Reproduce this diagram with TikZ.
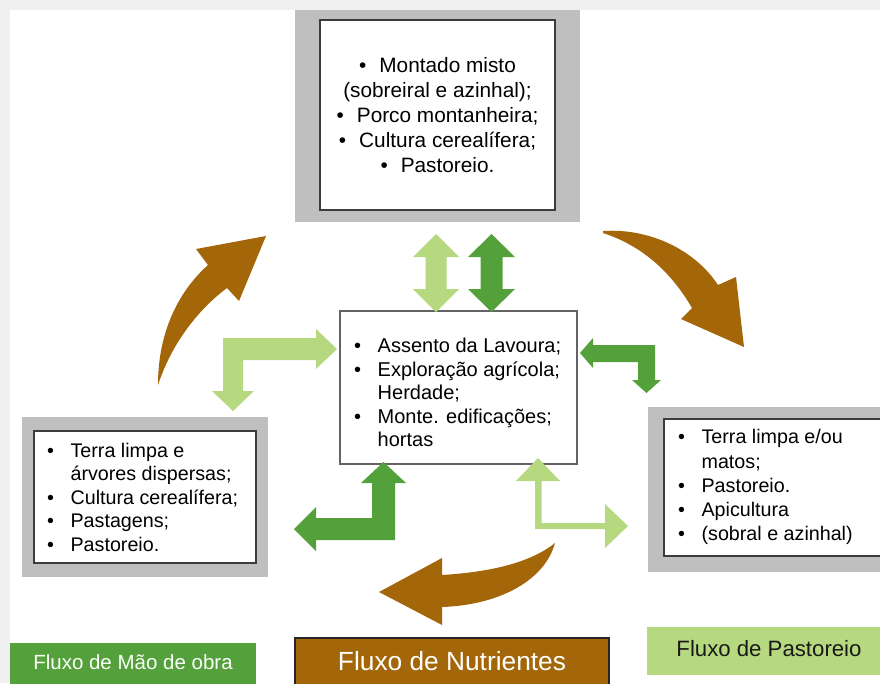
\documentclass[tikz,border=0pt]{standalone}
\usepackage{fontspec}
\setmainfont{Liberation Sans}
\definecolor{dgreen}{RGB}{84,160,58}
\definecolor{lgreen}{RGB}{182,216,126}
\definecolor{brownc}{RGB}{163,102,8}
\definecolor{boxgray}{RGB}{191,191,191}
\definecolor{bggray}{RGB}{240,240,240}
\definecolor{edge}{RGB}{60,60,60}
\tikzset{
  outerbox/.style={fill=boxgray},
  innerbox/.style={fill=white, draw=edge, line width=1.4pt},
  listtext/.style={anchor=west, inner sep=0pt, align=left},
  legendbox/.style={inner sep=0pt},
  arrowshape/.style={line join=miter}
}
\begin{document}
\begin{tikzpicture}[x=1pt,y=-1pt]
\useasboundingbox (0,0) rectangle (880,683);
\fill[bggray] (0,0) rectangle (880,683);
\fill[white] (10,10) rectangle (880,683);

% top box
\fill[outerbox] (295,10) rectangle (580,222);
\draw[innerbox] (320,20) rectangle (555,210);
\node[inner sep=0pt, align=center, font=\fontsize{20.8}{25}\selectfont] (toptext) at (437.5,115)
  {•\hspace{13pt}Montado misto\\(sobreiral e azinhal);\\•\hspace{13pt}Porco montanheira;\\•\hspace{13pt}Cultura cerealífera;\\•\hspace{13pt}Pastoreio.};

% center box
\draw[innerbox, draw=edge!80] (340,311) rectangle (577,464);
\node[listtext, font=\fontsize{20}{23.5}\selectfont] (ctext) at (354,395)
  {\begin{tabular}{@{}l@{\hspace{16.5pt}}l@{}}
   •&Assento da Lavoura;\\
   •&Exploração agrícola;\\
    &Herdade;\\
   •&Monte. edificações;\\
    &hortas
   \end{tabular}};

% left box
\fill[outerbox] (22,417) rectangle (268,577);
\draw[innerbox] (34,431) rectangle (256,563);
\node[listtext, font=\fontsize{19.7}{23.6}\selectfont] (ltext) at (47,499.5)
  {\begin{tabular}{@{}l@{\hspace{16.5pt}}l@{}}
   •&Terra limpa e\\
    &árvores dispersas;\\
   •&Cultura cerealífera;\\
   •&Pastagens;\\
   •&Pastoreio.
   \end{tabular}};

% right box
\fill[outerbox] (648,407) rectangle (880,572);
\draw[innerbox] (664,419) rectangle (890,556);
\node[listtext, font=\fontsize{19.7}{24.2}\selectfont] (rtext) at (678,487.5)
  {\begin{tabular}{@{}l@{\hspace{16.5pt}}l@{}}
   •&Terra limpa e/ou\\
    &matos;\\
   •&Pastoreio.\\
   •&Apicultura\\
   •&(sobral e azinhal)
   \end{tabular}};

% top double arrows
\fill[lgreen, arrowshape] (436,234) -- (459,257) -- (446.5,257) -- (446.5,289) -- (459,289) -- (436,312)
  -- (413,289) -- (425.5,289) -- (425.5,257) -- (413,257) -- cycle;
\fill[dgreen, arrowshape] (491.5,234) -- (515,257) -- (502.5,257) -- (502.5,289) -- (515,289) -- (491.5,312)
  -- (468,289) -- (480.5,289) -- (480.5,257) -- (468,257) -- cycle;

% left light green elbow
\fill[lgreen, arrowshape] (223,338) -- (316,338) -- (316,329) -- (337,349) -- (316,369) -- (316,360)
  -- (243,360) -- (243,391) -- (254,391) -- (233,411) -- (212,391) -- (223,391) -- cycle;

% right dark green elbow
\fill[dgreen, arrowshape] (655,345) -- (593,345) -- (593,338) -- (580,353) -- (593,368) -- (593,362)
  -- (638,362) -- (638,380) -- (632,380) -- (646.5,393) -- (661,380) -- (655,380) -- cycle;

% bottom-left dark green elbow
\fill[dgreen, arrowshape] (395,540) -- (316,540) -- (316,551) -- (294,529) -- (316,507) -- (316,518)
  -- (372,518) -- (372,483) -- (361,483) -- (383.5,462) -- (406,483) -- (395,483) -- cycle;

% bottom-right light green elbow
\fill[lgreen, arrowshape] (535,529) -- (535,481) -- (516,481) -- (538,458) -- (560,481) -- (541.5,481)
  -- (541.5,523) -- (605,523) -- (605,504) -- (628,526) -- (605,548) -- (605,529) -- cycle;

% brown curved arrows
\fill[brownc] (158,385) .. controls (158,330) and (180,290) .. (208,265) -- (196,249) -- (266,236)
  -- (239,301) -- (227,288) .. controls (200,308) and (172,342) .. (158,385) -- cycle;
\fill[brownc] (603,231) .. controls (650,228) and (695,250) .. (718,285) -- (736,277) -- (744,347)
  -- (681,319) -- (692,308) .. controls (670,270) and (640,245) .. (603,233) -- cycle;
\fill[brownc] (555,543) .. controls (530,563) and (490,572) .. (442,575) -- (442,558) -- (379,592)
  -- (442,625) -- (442,607) .. controls (500,605) and (545,580) .. (555,543) -- cycle;

% legends
\fill[dgreen] (10,643) rectangle (256,690);
\node[legendbox, text=white!95!lgreen, font=\fontsize{20.5}{24}\selectfont] (lgwork) at (133,662) {Fluxo de Mão de obra};
\draw[fill=brownc, draw=black!85, line width=1.2pt] (295,638) rectangle (609,690);
\node[legendbox, text=white, font=\fontsize{26.3}{30}\selectfont] (lgnut) at (452,661) {Fluxo de Nutrientes};
\fill[lgreen] (647,627) rectangle (885,675);
\node[legendbox, text=black!90, font=\fontsize{22.2}{26}\selectfont] (lgpast) at (769,649) {Fluxo de Pastoreio};
\end{tikzpicture}
\end{document}
